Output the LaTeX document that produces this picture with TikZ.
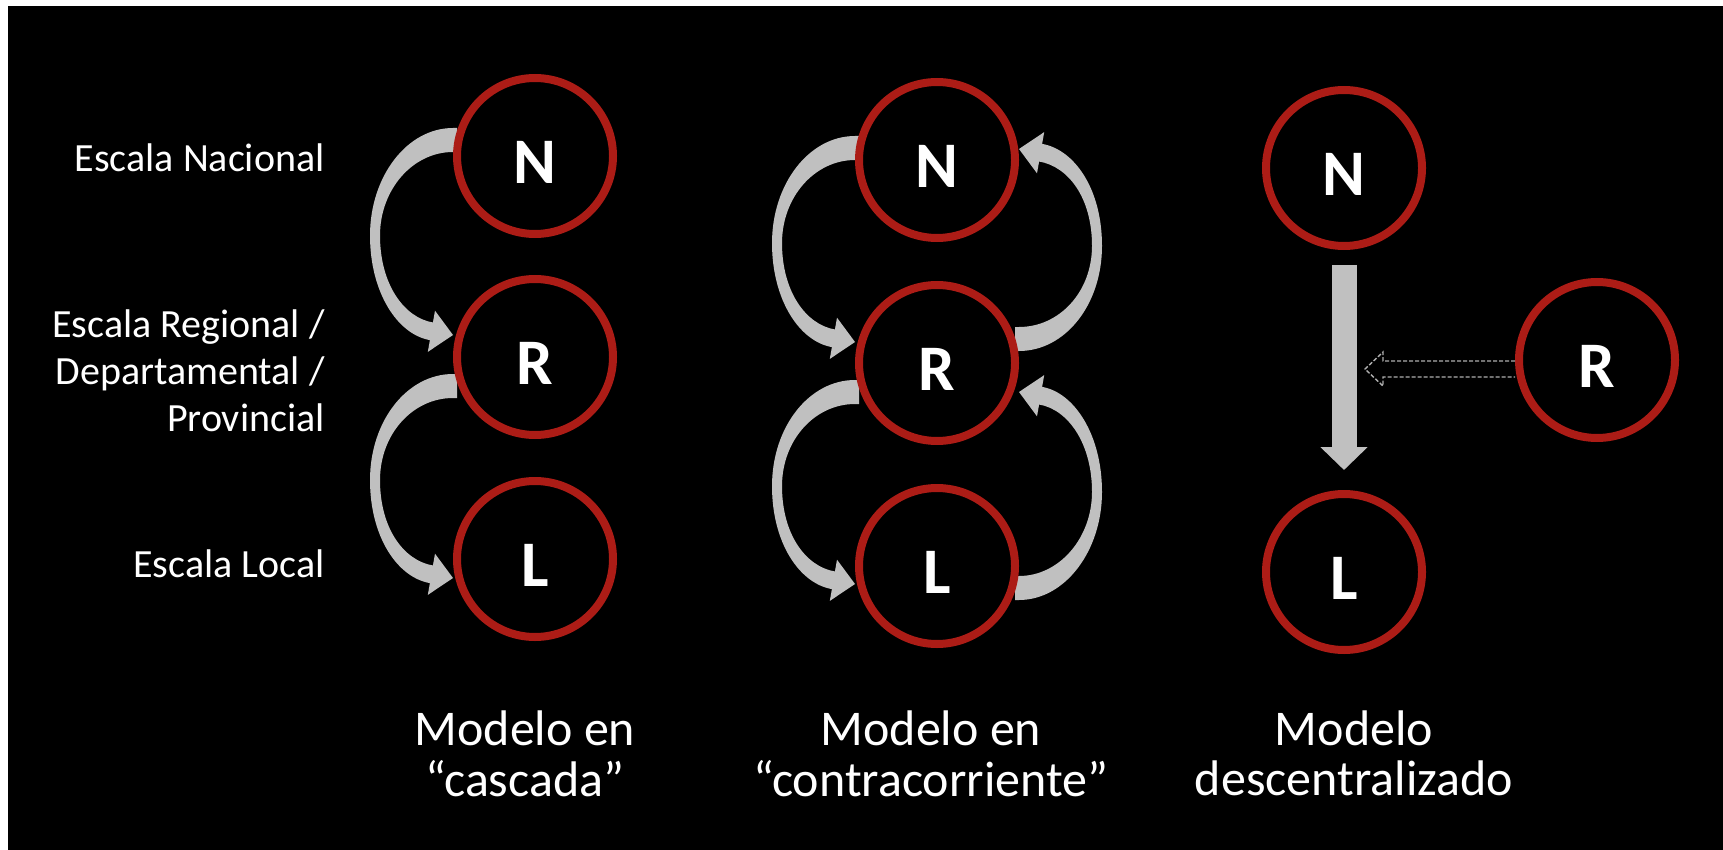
\documentclass[tikz,border=0pt]{standalone}
\usepackage{fontspec}
\setmainfont{Carlito}
\usetikzlibrary{calc,arrows.meta,backgrounds}
\definecolor{ringred}{RGB}{172,28,22}
\definecolor{arrowgray}{RGB}{192,192,192}
\definecolor{dashgray}{RGB}{175,175,175}
\begin{document}
\begin{tikzpicture}[x=0.5pt,y=-0.5pt,
  ring/.style={circle,draw=ringred,line width=4pt,fill=black,minimum size=78pt,inner sep=0pt},
  letter/.style={text=white,font=\fontsize{32.5pt}{39pt}\selectfont\bfseries,inner sep=0pt},
  scalelabel/.style={text=white,font=\fontsize{20pt}{23.5pt}\selectfont,inner sep=0pt,anchor=base east},
  modellabel/.style={text=white,font=\fontsize{25pt}{25pt}\selectfont,inner sep=0pt,anchor=base},
  pics/crescent/.style={code={
    \fill[arrowgray] (4,-12) -- (0,-12)
      .. controls (-46,-12) and (-83,{0.49*#1-59}) .. (-83,{0.49*#1})
      .. controls (-83,{0.49*#1+57}) and (-55.4,{#1-0.5}) .. (-23.1,{#1+5.1})
      -- (-25.2,{#1+16.9}) -- (0,#1) -- (-18,{#1-24.3}) -- (-20.1,{#1-12.5})
      .. controls (-49.5,{#1-17.6}) and (-73,{0.49*#1+48}) .. (-73,{0.49*#1})
      .. controls (-73,{0.49*#1-46}) and (-40.3,12) .. (0,12)
      -- (4,12) -- cycle;
  }},
  downarrow/.style={draw=arrowgray,line width=12.5pt,-{Triangle[width=23pt,length=11.5pt]},shorten <=7.5pt,shorten >=10pt},
  hollow/.style={draw=dashgray,line width=0.7pt,dash pattern=on 2pt off 1pt}
]
\useasboundingbox (0,0) rectangle (1723,850);

% circles: cascade
\node[ring] (c1) at (535,156) {};
\node[ring] (c2) at (535,357) {};
\node[ring] (c3) at (535,559) {};
% circles: contracorriente
\node[ring] (m1) at (937,160) {};
\node[ring] (m2) at (937,363) {};
\node[ring] (m3) at (937,566) {};
% circles: descentralizado
\node[ring] (d1) at (1344,168) {};
\node[ring] (d3) at (1344,572) {};
\node[ring] (r3) at (1597,360) {};

% letters
\node[letter,yshift=-3pt] (c1t) at (c1) {N};
\node[letter,yshift=-3pt] (c2t) at (c2) {R};
\node[letter,yshift=-3pt] (c3t) at (c3) {L};
\node[letter,yshift=-3pt] (m1t) at (m1) {N};
\node[letter,yshift=-3pt] (m2t) at (m2) {R};
\node[letter,yshift=-3pt] (m3t) at (m3) {L};
\node[letter,yshift=-3pt] (d1t) at (d1) {N};
\node[letter,yshift=-3pt] (d3t) at (d3) {L};
\node[letter,yshift=-3pt] (r3t) at (r3) {R};

% left labels
\node[scalelabel] (lnac) at (325,172) {Escala Nacional};
\node[scalelabel] (lreg) at (325,431) {\begin{tabular}[b]{@{}r@{}}Escala Regional /\\Departamental /\\Provincial\end{tabular}};
\node[scalelabel] (lloc) at (325,577) {Escala Local};

% bottom labels
\node[modellabel] (mod1) at (525,745) {\begin{tabular}[t]{@{}c@{}}Modelo en\\“cascada”\end{tabular}};
\node[modellabel] (mod2) at (931,745) {\begin{tabular}[t]{@{}c@{}}Modelo en\\“contracorriente”\end{tabular}};
\node[modellabel] (mod3) at (1354,745) {\begin{tabular}[t]{@{}c@{}}Modelo\\descentralizado\end{tabular}};

\begin{scope}[on background layer]
  \fill[white] (0,0) rectangle (1723,850);
  \fill[black] (8,6) rectangle (1723,850);
  % cascade arrows
  \pic at ($(c1.west)+(0,-16)$) {crescent=195};
  \pic at ($(c2.west)+(0,29)$) {crescent=192};
  % contracorriente arrows
  \pic at ($(m1.west)+(0,-12)$) {crescent=194};
  \pic at ($(m2.west)+(0,29)$) {crescent=192};
  \pic[rotate=180] at ($(m2.east)+(0,-24)$) {crescent=190};
  \pic[rotate=180] at ($(m3.east)+(0,22)$) {crescent=196};
\end{scope}

% descentralizado arrows
\draw[downarrow] (d1) -- (d3);
\coordinate (dtip) at (1365,369);
\path (dtip) ++(0,-8) coordinate (dtop) ++(0,16) coordinate (dbot);
\draw[hollow] (r3.west |- dtop) -- ($(dtop)+(18,0)$) -- ($(dtip)+(18,-17)$) -- (dtip)
  -- ($(dtip)+(18,17)$) -- ($(dbot)+(18,0)$) -- (r3.west |- dbot);
\end{tikzpicture}
\end{document}
